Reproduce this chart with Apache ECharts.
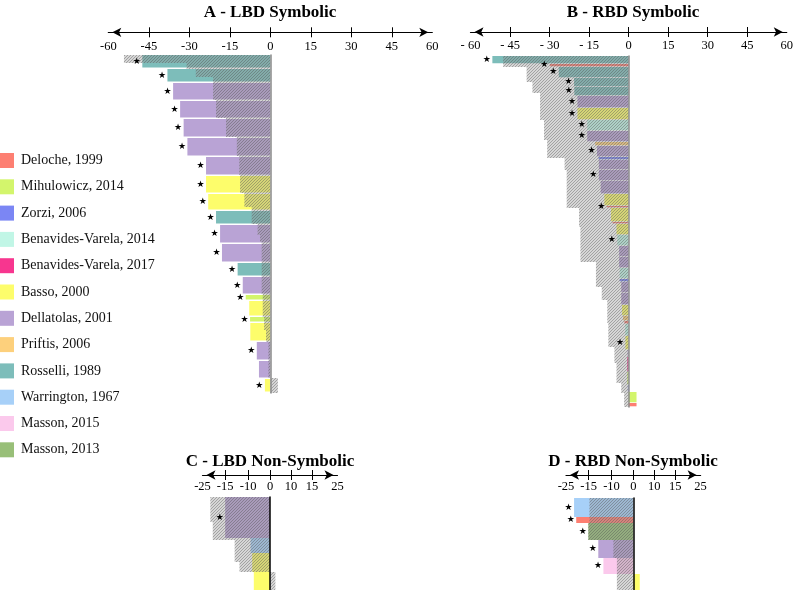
<!DOCTYPE html>
<html><head><meta charset="utf-8">
<script src="https://cdn.jsdelivr.net/npm/echarts@6/dist/echarts.min.js"></script>
<style>html,body{margin:0;padding:0;background:#fff}#c{width:796px;height:590px}</style>
</head><body><div id="c"></div>
<script>
// ---------- data ----------
const studies = ['Deloche, 1999','Mihulowicz, 2014','Zorzi, 2006','Benavides-Varela, 2014','Benavides-Varela, 2017','Basso, 2000','Dellatolas, 2001','Priftis, 2006','Rosselli, 1989','Warrington, 1967','Masson, 2015','Masson, 2013'];
const studyColors = ['#fd7f72','#d3f56c','#7b86f4','#c1f6e6','#f7368f','#fdfd6b','#b9a3d5','#fdd07c','#7dbdba','#a7d0f8','#fbc9ec','#98bf78'];
const DL=0, MI=1, ZO=2, BV14=3, BV17=4, BA=5, DE=6, PR=7, RO=8, WA=9, MA15=10, MA13=11;

// Panel A - LBD Symbolic
const aStudy  = [RO,RO,DE,DE,DE,DE,DE,BA,BA,RO,DE,DE,RO,DE,MI,BA,MI,BA,DE,DE,BA];
const aValue  = [-47.4,-38.1,-36.0,-33.4,-32.1,-30.7,-23.8,-23.8,-23.0,-20.1,-18.6,-17.9,-12.1,-10.2,-9.1,-7.8,-7.5,-7.4,-5.0,-4.2,-2.0];
const aN      = [14,14,18,18,19,19,19,18,17,14,19,19,14,18,6,16,6,19,19,18,14];
const aStar   = [1,1,1,1,1,1,1,1,1,1,1,1,1,1,1,0,1,0,1,0,1];
const aCtrlValue = [-54.2,-31,-27.6,-21.2,-20.1,-16.4,-12.4,-11.5,-11.2,-9.6,-6.9,-4.7,-3.8,-3.2,-2.8,-2.3,-1.6,-0.7,2.8];
const aCtrlN     = [8,6,8,23,18,19,19,19,18,14,17,11,7,52,23,13,12,36,15];

// Panel B - RBD Symbolic
const bStudy  = [RO,DL,RO,RO,RO,DE,BA,BV14,DE,PR,DE,ZO,DE,DE,DE,BA,DL,BA,DL,BA,BV14,DE,DE,BV14,ZO,DE,DE,BA,PR,DL,BV14,BA,DE,BV17,MI,ZO,MI,DL];
const bValue  = [-51.7,-29.9,-26.5,-20.7,-20.6,-19.4,-19.4,-15.7,-15.7,-12.7,-12.0,-11.4,-11.3,-11.3,-10.6,-9.2,-8.3,-6.7,-6.1,-4.6,-4.3,-3.6,-3.6,-3.4,-3.4,-2.8,-2.8,-2.5,-2.1,-1.6,-1.3,-1.2,-0.4,-0.5,-0.5,-0.3,3.0,3.0];
const bN      = [8,3,11,9,9,12,12,11,11,4,11,3,10,11,13,12,2,14,2,11,11,11,11,11,3,11,12,11,5,3,12,14,7,15,13,7,11,4];
const bStar   = [1,1,1,1,1,1,1,1,1,0,1,0,0,1,0,0,1,0,0,0,1,0,0,0,0,0,0,0,0,0,0,1,0,0,0,0,0,0];
const bCtrlValue = [-47.6,-38.7,-36.5,-33.6,-32.1,-30.9,-24.3,-23.5,-18.8,-18.3,-12.4,-10.2,-8.1,-7.7,-5.4,-4.6,-2.8,-1.7];
const bCtrlN     = [11,15,11,27,20,18,12,38,19,35,25,13,23,24,16,20,10,14];

// Panel C - LBD Non-Symbolic
const cStudy  = [DE,WA,BA,BA];
const cValue  = [-16.6,-7.2,-6.6,-6.0];
const cN      = [41,15,19,18];
const cStar   = [1,0,0,0];
const cCtrlValue = [-22.1,-21.2,-13.1,-11.3,2.0];
const cCtrlN     = [25,18,22,10,18];

// Panel D - RBD Non-Symbolic
const dStudy  = [WA,DL,MA13,DE,MA15,BA];
const dValue  = [-22.0,-21.2,-16.7,-13.0,-11.1,2.4];
const dN      = [19,6,17,18,16,16];
const dStar   = [1,1,1,1,1,0];
const dCtrlValue = [-16.3,-16.7,-7.4,-6.1];
const dCtrlN     = [25,17,18,32];

// axis tick labels
const bigTickVals  = [-45,-30,-15,0,15,30,45];
const bigLabelVals = [-60,-45,-30,-15,0,15,30,45,60];
const smallTickVals  = [-16.6,-8.1,0,7.8,15.6];
const smallLabelVals = [-25,-16.6,-8.1,0,7.8,15.6,25];
const smallLabels    = ['-25','-15','-10','0','10','15','25'];

// ---------- helpers ----------
function stackRows(n, vals, study, star) {
  const out = []; let s = 0;
  for (let i = 0; i < n.length; i++) {
    out.push([s, s + n[i], vals[i], study ? study[i] : 0, star ? star[i] : 0]);
    s += n[i];
  }
  return out;
}
function total(n){ return n.reduce((a,b)=>a+b,0); }

const tile = document.createElement('canvas'); tile.width = 3; tile.height = 3;
(function(){
  const g = tile.getContext('2d');
  g.fillStyle = 'rgba(140,140,140,0.36)'; g.fillRect(0,0,3,3);
  g.fillStyle = 'rgba(80,80,80,0.38)';
  g.fillRect(2,0,1,1); g.fillRect(1,1,1,1); g.fillRect(0,2,1,1);
})();
const hatchFill = {image: tile, repeat: 'repeat'};

function colorRender(gap) {
  return function(params, api) {
    const s = api.value(0), e = api.value(1), v = api.value(2), ci = api.value(3);
    const p0 = api.coord([0, s]), p1 = api.coord([v, e]);
    const x = Math.min(p0[0], p1[0]), w = Math.abs(p1[0] - p0[0]);
    const y = p0[1], h = Math.max(1, p1[1] - p0[1] - gap);
    return {type:'rect', shape:{x:x, y:y, width:w, height:h}, style:{fill: studyColors[ci]}};
  };
}
function starRender(gap) {
  return function(params, api) {
    const s = api.value(0), e = api.value(1), v = api.value(2), st = api.value(4);
    if (!st) return null;
    const p0 = api.coord([0, s]), p1 = api.coord([v, e]);
    const x = Math.min(p0[0], p1[0]);
    const y = p0[1], h = Math.max(1, p1[1] - p0[1] - gap);
    return {type:'text', x: x - 5.5, y: y + h/2,
      style:{text:'\u2605', fontSize:9, fill:'#000', align:'center', verticalAlign:'middle', fontFamily:'DejaVu Sans'}};
  };
}
function hatchRender(params, api) {
  const s = api.value(0), e = api.value(1), v = api.value(2);
  const p0 = api.coord([0, s]), p1 = api.coord([v, e]);
  return {type:'rect', shape:{x: Math.min(p0[0],p1[0]), y: p0[1], width: Math.abs(p1[0]-p0[0]), height: p1[1]-p0[1]},
          style:{fill: hatchFill}};
}

const serif = 'Liberation Serif';
function xAxesFor(grid, off, min, max, tickVals, labelVals, fmt, margin) {
  const base = {gridIndex:grid, type:'value', position:'top', offset:off, min:min, max:max, splitLine:{show:false}};
  const a = Object.assign({}, base, {
    axisLine:{show:true, onZero:false, symbol:['arrow','arrow'], symbolSize:[7,9], symbolOffset:[4,-4],
              lineStyle:{color:'#000', width:1.2}},
    axisTick:{show:true, inside:false, length:5, customValues:tickVals, lineStyle:{color:'#000', width:1}},
    axisLabel:{show:true, inside:true, margin:margin, customValues:labelVals, formatter:fmt,
               fontFamily:serif, fontSize:12.5, color:'#000', showMinLabel:true, showMaxLabel:true}
  });
  const b = Object.assign({}, base, {
    axisLine:{show:false, onZero:false},
    axisTick:{show:true, inside:true, length:5, customValues:tickVals, lineStyle:{color:'#000', width:1}},
    axisLabel:{show:false}
  });
  return [a, b];
}
function yAxisFor(grid, max, color) {
  return {gridIndex:grid, type:'value', inverse:true, min:0, max:max, z:5,
    axisLine:{show:true, onZero:true, lineStyle:{color:color, width:1.5}},
    axisTick:{show:false}, axisLabel:{show:false}, splitLine:{show:false}};
}
function smallFmt(v){
  let best = 0, bd = 1e9;
  smallLabelVals.forEach((t,i)=>{ const d = Math.abs(t - v); if (d < bd) { bd = d; best = i; } });
  return smallLabels[best];
}

const panels = [
  {study:aStudy, val:aValue, n:aN, star:aStar, cv:aCtrlValue, cn:aCtrlN, gap:1.5},
  {study:bStudy, val:bValue, n:bN, star:bStar, cv:bCtrlValue, cn:bCtrlN, gap:0.7},
  {study:cStudy, val:cValue, n:cN, star:cStar, cv:cCtrlValue, cn:cCtrlN, gap:0},
  {study:dStudy, val:dValue, n:dN, star:dStar, cv:dCtrlValue, cn:dCtrlN, gap:0}
];

const xAxis = [].concat(
  xAxesFor(0, 22.7, -60, 60, bigTickVals, bigLabelVals, v => String(v), 7.5),
  xAxesFor(1, 24, -60, 60, bigTickVals, bigLabelVals, v => v < 0 ? '- ' + (-v) : String(v), 7.5),
  xAxesFor(2, 22, -25, 25, smallTickVals, smallLabelVals, smallFmt, 5.5),
  xAxesFor(3, 23, -25, 25, smallTickVals, smallLabelVals, smallFmt, 5.5)
);
const yAxis = [
  yAxisFor(0, total(aN), '#8a8a8a'),
  yAxisFor(1, total(bN), '#8a8a8a'),
  yAxisFor(2, total(cN), '#000'),
  yAxisFor(3, total(dN), '#000')
];

const series = [];
panels.forEach((p, i) => {
  const rows = stackRows(p.n, p.val, p.study, p.star);
  series.push({type:'custom', coordinateSystem:'cartesian2d', xAxisIndex:2*i, yAxisIndex:i,
    renderItem: colorRender(p.gap), data: rows, silent:true, z:2});
  series.push({type:'custom', coordinateSystem:'cartesian2d', xAxisIndex:2*i, yAxisIndex:i,
    renderItem: hatchRender, data: stackRows(p.cn, p.cv), silent:true, z:3});
  series.push({type:'custom', coordinateSystem:'cartesian2d', xAxisIndex:2*i, yAxisIndex:i,
    renderItem: starRender(p.gap), data: rows, silent:true, z:6});
});
studies.forEach((name, i) => {
  series.push({type:'scatter', name:name, xAxisIndex:0, yAxisIndex:0, data:[], itemStyle:{color:studyColors[i], opacity:1}});
});

const titleFont = 'bold 17px "Liberation Serif"';
const option = {
  animation:false,
  backgroundColor:'#fff',
  grid:[
    {left:108.3, top:55, width:324, height:338},
    {left:470.5, top:56, width:324, height:351},
    {left:202.5, top:497, width:135, height:93},
    {left:566, top:498, width:134.6, height:92}
  ],
  xAxis: xAxis,
  yAxis: yAxis,
  legend:{orient:'vertical', left:0, top:153, padding:0, itemWidth:14, itemHeight:15, itemGap:11.3, icon:'rect',
    selectedMode:false, data: studies, itemStyle:{opacity:1},
    textStyle:{fontFamily:serif, fontSize:14, color:'#111', padding:[0,0,0,2]}},
  graphic:[
    {type:'text', x:270, y:13, style:{text:'A - LBD Symbolic', font:titleFont, fill:'#000', align:'center', verticalAlign:'middle'}},
    {type:'text', x:633, y:13, style:{text:'B - RBD Symbolic', font:titleFont, fill:'#000', align:'center', verticalAlign:'middle'}},
    {type:'text', x:270, y:462, style:{text:'C - LBD Non-Symbolic', font:titleFont, fill:'#000', align:'center', verticalAlign:'middle'}},
    {type:'text', x:633, y:462, style:{text:'D - RBD Non-Symbolic', font:titleFont, fill:'#000', align:'center', verticalAlign:'middle'}}
  ],
  series: series
};
const chart = echarts.init(document.getElementById('c'), null, {renderer:'canvas'});
chart.setOption(option);
</script>
</body></html>
